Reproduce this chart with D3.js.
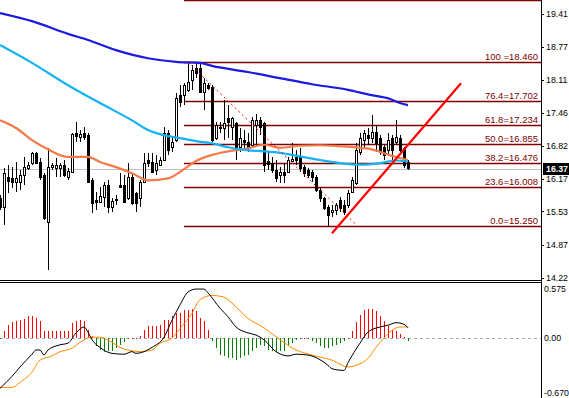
<!DOCTYPE html>
<html>
<head>
<meta charset="utf-8">
<script src="https://cdn.jsdelivr.net/npm/d3@7"></script>
<style>
  body { margin: 0; background: #fff; overflow: hidden; }
  svg { display: block; font-family: "Liberation Sans", Arial, sans-serif; }
</style>
</head>
<body>
<div id="chart"></div>
<script>
// candles, one per bar index (0 = left edge)
const opens = [15.79,15.61,16.20,16.18,16.10,16.10,16.24,16.38,16.48,16.68,16.50,16.24,15.32,16.40,16.38,16.38,16.44,16.20,16.30,17.07,
  16.99,17.07,17.03,16.14,15.75,15.71,15.81,16.05,15.61,15.75,16.05,16.05,15.79,16.20,15.89,15.79,16.10,16.54,16.50,16.34,
  16.44,16.54,17.07,16.79,16.93,17.82,17.82,17.92,18.11,18.35,18.35,17.88,18.01,17.97,16.97,17.17,17.17,17.36,17.19,17.27,
  16.79,16.93,16.89,16.83,17.23,17.32,17.27,16.52,16.48,16.34,16.24,16.30,16.30,16.52,16.60,16.60,16.40,16.34,16.30,16.20,
  15.95,15.79,15.61,15.51,15.55,15.75,15.65,15.65,15.91,16.08,16.69,16.93,17.03,16.97,17.09,16.97,16.79,16.73,16.97,16.89,
  16.97,16.77,16.50];
const highs = [15.85,16.38,16.44,16.40,16.50,16.34,16.60,16.50,16.69,16.70,16.58,16.28,16.77,16.48,16.58,16.48,16.54,16.38,17.07,17.28,
  17.13,17.19,17.07,16.18,15.91,16.01,16.10,16.14,15.79,15.85,16.28,16.24,16.48,16.28,15.91,16.14,16.68,16.68,16.68,16.64,
  16.60,17.19,17.13,16.99,17.86,18.01,18.05,18.46,18.41,18.45,18.45,18.15,18.05,18.01,17.29,17.29,17.72,17.62,17.38,17.29,
  17.17,17.13,17.07,17.38,17.44,17.38,17.29,16.72,16.60,16.54,16.40,16.48,16.60,16.87,16.73,16.77,16.44,16.38,16.34,16.24,
  16.01,15.81,15.65,15.65,15.69,15.81,15.75,15.95,16.20,16.87,17.07,17.13,17.17,17.42,17.23,17.03,16.83,17.07,17.03,17.32,
  17.03,16.79,16.54];
const lows = [15.55,15.26,15.89,15.99,15.91,15.95,16.05,16.34,16.44,16.47,16.14,15.36,14.37,16.34,16.20,16.20,16.20,16.14,16.28,16.89,
  16.89,16.93,16.08,15.49,15.55,15.69,15.61,15.49,15.51,15.65,15.99,15.69,15.75,15.65,15.51,15.61,16.08,16.40,16.28,16.24,
  16.42,16.54,16.64,16.69,16.89,17.58,17.62,17.88,17.92,18.15,17.86,17.52,17.92,16.89,16.93,17.07,16.93,16.97,16.93,16.54,
  16.69,16.77,16.69,16.79,16.83,17.03,16.30,16.34,16.28,16.10,16.08,16.08,16.28,16.50,16.44,16.30,16.20,16.18,16.10,15.91,
  15.71,15.55,15.25,15.41,15.45,15.51,15.45,15.59,15.89,16.04,16.64,16.77,16.83,16.87,16.69,16.64,16.54,16.64,16.54,16.83,
  16.69,16.38,16.34];
const closes = [15.61,16.28,16.12,16.10,16.18,16.24,16.40,16.44,16.68,16.48,16.20,15.40,16.40,16.44,16.44,16.44,16.24,16.32,17.05,17.01,
  17.05,16.99,16.10,15.69,15.71,15.83,16.05,15.61,15.73,15.77,16.01,15.71,16.20,15.69,15.69,16.10,16.48,16.48,16.30,16.48,
  16.54,17.07,16.73,16.89,17.76,17.68,18.01,18.07,18.31,18.25,17.88,18.05,17.95,16.93,17.23,17.19,17.27,17.28,17.36,16.73,
  16.97,16.89,16.79,17.32,17.32,17.19,16.44,16.46,16.34,16.18,16.30,16.24,16.54,16.56,16.54,16.38,16.28,16.24,16.20,15.95,
  15.79,15.59,15.45,15.55,15.65,15.59,15.51,15.89,16.14,16.73,16.97,17.07,16.97,17.09,16.87,16.69,16.64,16.93,16.73,16.99,
  16.73,16.44,16.38];

// moving averages, read as [bar index, price]
const slowMA = [[0,19.43],[8,19.27],[17,19.02],[22,18.90],[29,18.70],[37,18.54],[44,18.47],[50,18.45],[53,18.39],[62,18.27],
  [70,18.15],[78,18.03],[87,17.92],[92.5,17.82],[97.5,17.74],[100,17.66],[102,17.62]];
const midMA = [[0,18.80],[8,18.45],[17,18.01],[25,17.66],[33,17.32],[37,17.13],[42,17.01],[45,16.97],[49,16.91],[53,16.87],
  [57,16.79],[62,16.73],[66,16.71],[70,16.68],[75,16.61],[80,16.54],[85,16.48],[90,16.45],[95,16.48],[99,16.53],[102,16.51]];
const fastMA = [[0,17.32],[4,17.17],[8,16.93],[12,16.75],[17,16.60],[22,16.60],[25,16.50],[29,16.40],[33,16.28],[37,16.14],
  [42,16.18],[46,16.36],[49,16.52],[53,16.64],[57,16.71],[62,16.77],[66,16.84],[70,16.78],[75,16.82],[80,16.83],[85,16.81],
  [90,16.78],[93,16.75],[95,16.70],[98,16.62],[100,16.58],[102,16.54]];

// fibonacci retracement
const fibRatios = ["138.2", "100 ", "76.4", "61.8", "50.0", "38.2", "23.6", "0.0"];
const fibPrices = [19.686, 18.460, 17.702, 17.234, 16.855, 16.476, 16.008, 15.250];
const fibStart = 46;
const fibDiagonal = [[47, 18.46], [88.75, 15.29]];
const trendLine = [[83, 15.10], [115.25, 18.05]];

const priceTicks = [19.41, 18.77, 18.11, 17.46, 16.82, 16.17, 15.53, 14.87, 14.22];
const lastPrice = 16.37;

// MACD panel
const histogram = [-0.01,0.08,0.15,0.19,0.20,0.21,0.22,0.26,0.26,0.23,0.20,0.08,0.08,0.08,0.08,0.08,0.08,0.08,0.18,0.20,
  0.21,0.20,0.09,0.02,-0.09,-0.14,-0.16,-0.15,-0.15,-0.12,-0.08,-0.05,0.00,0.00,0.00,0.02,0.09,0.14,0.14,0.14,
  0.15,0.21,0.21,0.26,0.29,0.29,0.33,0.33,0.34,0.32,0.23,0.20,0.09,-0.035,-0.12,-0.20,-0.21,-0.23,-0.23,-0.26,
  -0.23,-0.21,-0.20,-0.15,-0.12,-0.08,-0.09,-0.14,-0.15,-0.16,-0.15,-0.15,-0.09,-0.06,-0.02,-0.01,0.00,-0.01,-0.035,-0.06,
  -0.09,-0.12,-0.12,-0.09,-0.08,-0.06,-0.035,0.00,0.08,0.19,0.27,0.33,0.34,0.34,0.32,0.26,0.20,0.14,0.09,0.08,
  0.05,0.01,-0.035];
const macdMain = [[0,-0.59],[3,-0.45],[5,-0.34],[8,-0.19],[9,-0.14],[10,-0.14],[11,-0.20],[12,-0.14],[15,-0.08],[17,-0.06],
  [19,0.06],[21,0.13],[22,0.07],[23,-0.02],[25,-0.11],[28,-0.18],[31,-0.19],[33,-0.16],[34,-0.18],[38,-0.11],[41,0.01],
  [43,0.21],[45,0.39],[47,0.54],[49,0.575],[51,0.575],[52,0.53],[55,0.35],[57,0.25],[59,0.13],[62,0.06],[64,0.035],
  [66,-0.02],[69,-0.16],[72,-0.21],[74,-0.19],[77,-0.20],[79,-0.23],[82,-0.32],[83,-0.36],[86,-0.38],[87,-0.29],
  [90,-0.06],[92,0.07],[95,0.13],[97,0.15],[99,0.18],[101,0.16],[102,0.12]];
const macdSignal = [[0,-0.58],[3,-0.58],[5,-0.52],[8,-0.40],[10,-0.26],[13,-0.21],[15,-0.16],[18,-0.12],[20,-0.05],[23,0.01],
  [25,0.01],[28,-0.05],[30,-0.11],[33,-0.15],[35,-0.16],[38,-0.14],[40,-0.06],[43,0.00],[45,0.11],[48,0.29],[50,0.45],
  [53,0.50],[56,0.48],[58,0.41],[62,0.23],[66,0.12],[70,-0.02],[74,-0.14],[78,-0.20],[83,-0.26],[87,-0.34],[89,-0.32],
  [92,-0.24],[94,-0.11],[96,0.00],[98,0.09],[100,0.13],[102,0.13]];
const macdTicks = [0.575, 0.00, -0.670];

const width = 569, height = 398;
const plotRight = 541;
const mainBottom = 279, subTop = 283;

const x = d3.scaleLinear().domain([0, 102]).range([0, 408]);
const y = d3.scaleLinear().domain([14.20, 19.686]).range([mainBottom, 0]);
const yM = d3.scaleLinear().domain([-0.704, 0.646]).range([height, subTop]);

const svg = d3.select('#chart').append('svg')
  .attr('width', width).attr('height', height);

const defs = svg.append('defs');
defs.append('clipPath').attr('id', 'clipMain')
  .append('rect').attr('x', 0).attr('y', 0).attr('width', plotRight).attr('height', mainBottom);
defs.append('clipPath').attr('id', 'clipSub')
  .append('rect').attr('x', 0).attr('y', subTop).attr('width', plotRight).attr('height', height - subTop);

const main = svg.append('g').attr('clip-path', 'url(#clipMain)');

// bid line
main.append('line')
  .attr('x1', 0).attr('x2', plotRight)
  .attr('y1', Math.round(y(lastPrice)) + 0.5).attr('y2', Math.round(y(lastPrice)) + 0.5)
  .attr('stroke', '#c0c0c0').attr('stroke-width', 1);

// fib levels
const fibs = fibPrices.map((p, k) => ({ ratio: fibRatios[k], price: p }));
main.append('g').selectAll('line')
  .data(fibs)
  .join('line')
  .attr('x1', x(fibStart)).attr('x2', plotRight)
  .attr('y1', d => Math.round(y(d.price)) + 0.5)
  .attr('y2', d => Math.round(y(d.price)) + 0.5)
  .attr('stroke', '#800000').attr('stroke-width', 1.4);

main.append('g').selectAll('text')
  .data(fibs.filter(d => y(d.price) > 12))
  .join('text')
  .attr('x', plotRight - 3)
  .attr('y', d => Math.round(y(d.price)) - 2)
  .attr('text-anchor', 'end')
  .attr('font-size', '9.5px')
  .attr('fill', '#800000')
  .text(d => `${d.ratio}=${d.price.toFixed(3)}`);

// candles
const bars = d3.range(opens.length).map(i => ({
  i, o: opens[i], h: highs[i], l: lows[i], c: closes[i]
}));

const candles = main.append('g').attr('shape-rendering', 'crispEdges');
candles.selectAll('line')
  .data(bars)
  .join('line')
  .attr('x1', d => x(d.i) + 0.5).attr('x2', d => x(d.i) + 0.5)
  .attr('y1', d => y(d.h)).attr('y2', d => y(d.l))
  .attr('stroke', '#000');
candles.selectAll('rect')
  .data(bars)
  .join('rect')
  .attr('x', d => x(d.i) - 0.5)
  .attr('width', 2)
  .attr('y', d => Math.round(y(Math.max(d.o, d.c))) + 0.5)
  .attr('height', d => Math.max(1, Math.round(Math.abs(y(d.o) - y(d.c)))))
  .attr('fill', d => d.c >= d.o ? '#fff' : '#000')
  .attr('stroke', '#000').attr('stroke-width', 1);

// moving averages
const maLine = d3.line().x(d => x(d[0])).y(d => y(d[1])).curve(d3.curveMonotoneX);
[[fastMA, '#f47a4a'], [midMA, '#14b2f2'], [slowMA, '#1a1ae0']].forEach(([pts, col]) => {
  main.append('path').datum(pts)
    .attr('d', maLine)
    .attr('fill', 'none').attr('stroke', col).attr('stroke-width', 2.2);
});

// fib diagonal and trend line
main.append('path').datum(fibDiagonal)
  .attr('d', d3.line().x(d => x(d[0])).y(d => y(d[1])))
  .attr('stroke', '#ff0000').attr('stroke-width', 1).attr('stroke-dasharray', '2,3');
main.append('path').datum(trendLine)
  .attr('d', d3.line().x(d => x(d[0])).y(d => y(d[1])))
  .attr('stroke', '#ff0000').attr('stroke-width', 2.2);

// MACD sub window
const sub = svg.append('g').attr('clip-path', 'url(#clipSub)');
sub.append('line')
  .attr('x1', 0).attr('x2', plotRight)
  .attr('y1', Math.round(yM(0)) + 0.5).attr('y2', Math.round(yM(0)) + 0.5)
  .attr('stroke', '#a8a8a8').attr('stroke-dasharray', '3,3');

sub.append('g').attr('shape-rendering', 'crispEdges')
  .selectAll('line')
  .data(histogram.map((v, i) => ({ i, v })))
  .join('line')
  .attr('x1', d => x(d.i) + 0.5).attr('x2', d => x(d.i) + 0.5)
  .attr('y1', yM(0)).attr('y2', d => yM(d.v) + (d.v === 0 ? 0.5 : 0))
  .attr('stroke', d => d.v >= 0 ? '#ff0000' : '#008000');

const mLine = d3.line().x(d => x(d[0])).y(d => yM(d[1])).curve(d3.curveMonotoneX);
sub.append('path').datum(macdSignal).attr('d', mLine)
  .attr('fill', 'none').attr('stroke', '#ff8c00').attr('stroke-width', 1);
sub.append('path').datum(macdMain).attr('d', mLine)
  .attr('fill', 'none').attr('stroke', '#000').attr('stroke-width', 1);

// window separator and price scale border
const frame = svg.append('g').attr('shape-rendering', 'crispEdges').attr('stroke', '#000');
frame.append('line').attr('x1', 0).attr('x2', plotRight).attr('y1', 280.5).attr('y2', 280.5);
frame.append('line').attr('x1', 0).attr('x2', plotRight).attr('y1', 282.5).attr('y2', 282.5);
frame.append('line').attr('x1', plotRight + 0.5).attr('x2', plotRight + 0.5).attr('y1', 0).attr('y2', height);

// price axis
const axis = svg.append('g').attr('font-size', '8.8px').attr('fill', '#000');
axis.selectAll('line.tick')
  .data(priceTicks)
  .join('line')
  .attr('class', 'tick')
  .attr('x1', plotRight + 1).attr('x2', plotRight + 3)
  .attr('y1', d => Math.round(y(d)) + 0.5).attr('y2', d => Math.round(y(d)) + 0.5)
  .attr('stroke', '#000').attr('shape-rendering', 'crispEdges');
axis.selectAll('text.price')
  .data(priceTicks)
  .join('text')
  .attr('class', 'price')
  .attr('x', plotRight + 5)
  .attr('y', d => y(d) + 3.2)
  .text(d => d.toFixed(2));

// MACD scale labels
axis.selectAll('text.macd')
  .data(macdTicks)
  .join('text')
  .attr('class', 'macd')
  .attr('x', plotRight + 3)
  .attr('y', d => Math.min(yM(d) + 3.2, height - 2))
  .text(d => d === 0 ? '0.00' : d.toFixed(3));

// last price box
const ly = Math.round(y(lastPrice));
svg.append('rect')
  .attr('x', plotRight + 2).attr('y', ly - 6)
  .attr('width', width - plotRight).attr('height', 12)
  .attr('fill', '#000');
svg.append('text')
  .attr('x', plotRight + 5).attr('y', ly + 3.2)
  .attr('font-size', '8.8px').attr('font-weight', 'bold').attr('fill', '#fff')
  .text(lastPrice.toFixed(2));
</script>
</body>
</html>
